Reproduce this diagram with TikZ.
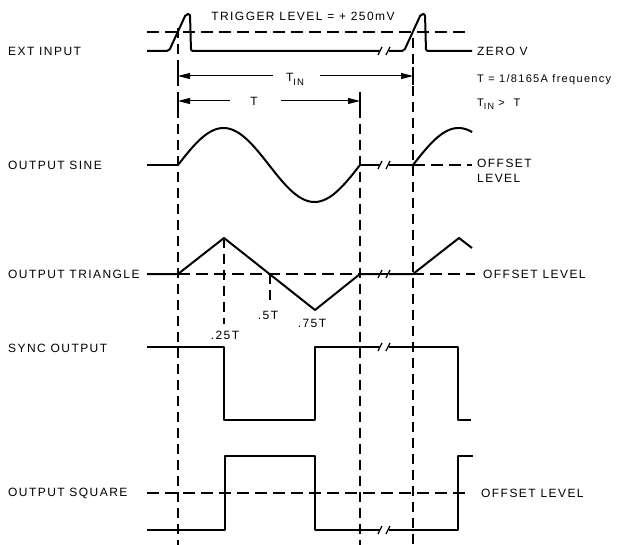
\documentclass[tikz,border=0pt]{standalone}
\usepackage{fontspec}
\setmainfont{Liberation Sans}[LetterSpace=12]
\usetikzlibrary{arrows.meta}

\begin{document}
\begin{tikzpicture}[
    x=1pt, y=-1pt,
    wave/.style={line width=2pt, line join=round},
    level/.style={line width=1.2pt, dash pattern=on 12pt off 6pt},
    marker/.style={line width=1.2pt, dash pattern=on 10pt off 6pt},
    lbl/.style={font=\fontsize{12}{15}\selectfont, anchor=west, inner sep=0pt},
    txt/.style={font=\fontsize{12}{15}\selectfont, inner sep=0pt},
    note/.style={font=\fontsize{11}{13}\selectfont, anchor=west, inner sep=0pt},
    dim/.style={line width=1pt, -{Triangle[length=12pt,width=6pt]}},
    brk/.style={line width=1.3pt},
]
\useasboundingbox (0,0) rectangle (620,545);

% Signal names (left)
\node[lbl] (extin) at (8,51) {EXT INPUT};
\node[lbl] (sinel) at (8,165) {OUTPUT SINE};
\node[lbl] (tril) at (8,274) {OUTPUT TRIANGLE};
\node[lbl] (syncl) at (8,348) {SYNC OUTPUT};
\node[lbl] (sqrl) at (8,493) {OUTPUT SQUARE};

% Notes (top and right)
\node[txt] (trig) at (303,16) {TRIGGER LEVEL = + 250mV};
\node[lbl] (zero) at (477,51) {ZERO V};
\node[note] (freq) at (477,80) {T = 1/8165A frequency};
\node[note] (cmp) at (477,104) {T\raisebox{-0.6ex}{\fontsize{9}{10}\selectfont IN} >\ \ T};
\node[lbl, align=left] (sineoff) at (477,171) {OFFSET\\LEVEL};
\node[lbl] (trioff) at (483,274) {OFFSET LEVEL};
\node[lbl] (sqroff) at (481,493) {OFFSET LEVEL};

% Phase labels
\node[txt] (q1) at (225,335) {.25T};
\node[txt] (q2) at (268,315) {.5T};
\node[txt] (q3) at (312,323) {.75T};

% Levels and markers
\draw[level] (147,32) -- (470,32);
\draw[level] (413,165) -- (472,165);
\draw[level] (178,274) -- (475,274);
\draw[level] (147,493) -- (470,493);
\draw[marker] (178,28) -- (178,545);
\draw[marker] (360,92) -- (360,545);
\draw[marker] (413,38) -- (413,545);
\draw[marker] (224,238) -- (224,324);
\draw[marker] (270,274) -- (270,306);

% Period arrows
\coordinate (tinL) at (178,76);
\coordinate (tinR) at (413,76);
\coordinate (tL) at (178,101);
\coordinate (tR) at (360,101);
\node[txt] (tin) at (295,79) {T\raisebox{-0.6ex}{\fontsize{9.5}{10}\selectfont IN}};
\node[txt] (tlab) at (254,101) {T};
\draw[dim] ([xshift=-13pt]tin.west |- tinL) -- (tinL);
\draw[dim] ([xshift=16pt]tin.east |- tinR) -- (tinR);
\draw[dim] ([xshift=-20pt]tlab.west |- tL) -- (tL);
\draw[dim] ([xshift=23pt]tlab.east |- tR) -- (tR);
\draw[line width=1.2pt] (178,67) -- (178,85) (413,67) -- (413,85);
\draw[line width=1.2pt] (178,92) -- (178,110) (360,92) -- (360,110);

% Ext input
\draw[wave, rounded corners=2pt] (147,51) -- (169,51) -- (186,14) -- (190,14) -- (191,51) -- (380,51);
\draw[wave, rounded corners=2pt] (389,51) -- (404,51) -- (421,14) -- (425,14) -- (426,51) -- (472,51);

% Sine
\draw[wave] (147,165) -- (178,165);
\draw[wave] plot[domain=0:360, samples=73] ({178+\x*0.50556}, {165-37*sin(\x)});
\draw[wave] (360,165) -- (380,165);
\draw[wave] (389,165) -- (413,165);
\draw[wave] plot[domain=0:117, samples=30] ({413+\x*0.50556}, {165-37*sin(\x)});

% Triangle
\draw[wave] (147,274) -- (178,274) -- (224,238) -- (315,310) -- (360,274) -- (380,274);
\draw[wave] (389,274) -- (413,274) -- (459,238) -- (472,248);

% Sync
\draw[wave] (147,347) -- (224,347) -- (224,420) -- (315,420) -- (315,347) -- (380,347);
\draw[wave] (389,347) -- (458,347) -- (458,420) -- (471,420);

% Square
\draw[wave] (147,530) -- (225,530) -- (225,456) -- (315,456) -- (315,530) -- (380,530);
\draw[wave] (389,530) -- (458,530) -- (458,456) -- (473,456);

% Breaks
\foreach \y in {51,165,274,347,530} {
  \draw[brk] (378,\y+4) -- (382,\y-4);
  \draw[brk] (386,\y+4) -- (390,\y-4);
}

\end{tikzpicture}
\end{document}
